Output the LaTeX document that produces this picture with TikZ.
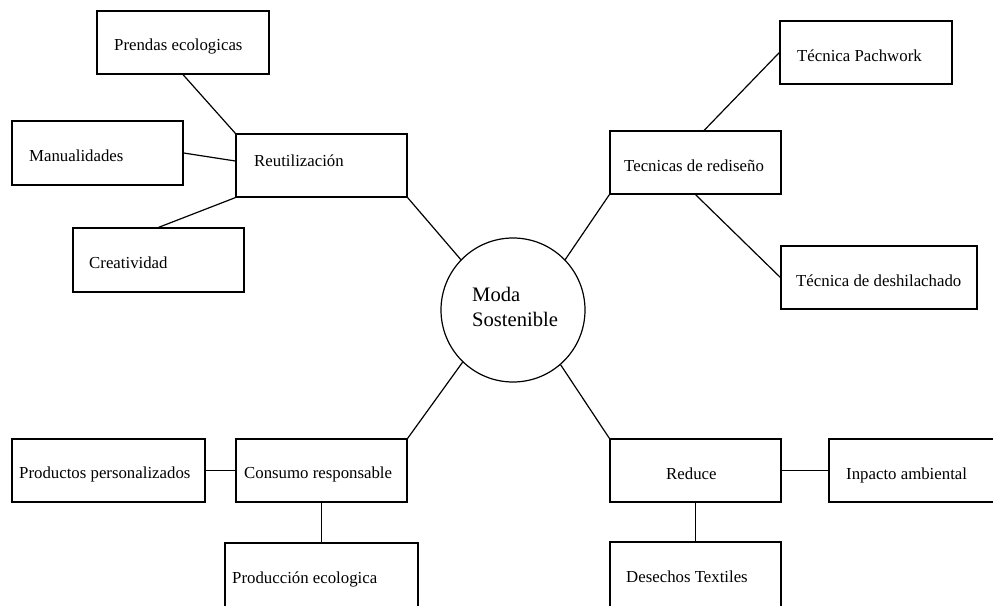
\documentclass[tikz,border=0pt]{standalone}
\usepackage{fontspec}
\setmainfont{Liberation Serif}
\usetikzlibrary{calc}
\tikzset{
  box/.style={draw=black, line width=1.2pt, rectangle, inner sep=0pt, fill=none},
  hub/.style={draw=black, line width=1.2pt, circle, inner sep=0pt, minimum size=144pt},
  txt/.style={inner sep=0pt, anchor=base west, font=\fontsize{16.8}{20}\selectfont},
  bigtxt/.style={inner sep=0pt, anchor=base west, font=\fontsize{20.6}{25}\selectfont},
  link/.style={draw=black, line width=1.2pt}
}
\newcommand{\mkbox}[5]{%
  \pgfmathsetmacro{\bw}{#4-#2}\pgfmathsetmacro{\bh}{#5-#3}%
  \node[box, minimum width=\bw pt, minimum height=\bh pt] (#1) at ({(#2+#4)/2},{(#3+#5)/2}) {};}
\begin{document}
\begin{tikzpicture}[x=1pt,y=-1pt]
\useasboundingbox (0,0) rectangle (993,605);
\fill[white] (0,0) rectangle (993,605);
\clip (0,0) rectangle (993,605);
% boxes
\mkbox{prendas}{97}{11}{269}{74}
\mkbox{manual}{12}{121}{183}{185}
\mkbox{reut}{236}{134}{407}{197}
\mkbox{creat}{73}{228}{244}{292}
\mkbox{pach}{780}{21}{952}{84}
\mkbox{tec}{610}{131}{781}{194}
\mkbox{desh}{781}{246}{977}{309}
\mkbox{prod}{12}{439}{205}{502}
\mkbox{cons}{236}{439}{407}{502}
\mkbox{produc}{225}{543}{418}{608}
\mkbox{reduce}{610}{439}{781}{502}
\mkbox{inpacto}{829}{439}{1000}{502}
\mkbox{desech}{610}{542}{781}{608}
\node[hub] (moda) at (513,310) {};
% texts
\node[txt] (prendas-t) at (114,50) {Prendas ecologicas};
\node[txt] (manual-t) at (29,161) {Manualidades};
\node[txt] (reut-t) at (254,166) {Reutilización};
\node[txt] (creat-t) at (89,268) {Creatividad};
\node[txt] (pach-t) at (797,61) {Técnica Pachwork};
\node[txt] (tec-t) at (624,171) {Tecnicas de rediseño};
\node[txt] (desh-t) at (796,286) {Técnica de deshilachado};
\node[txt] (prod-t) at (19,478) {Productos personalizados};
\node[txt] (cons-t) at (244,478) {Consumo responsable};
\node[txt] (produc-t) at (232,583) {Producción ecologica};
\node[txt] (reduce-t) at (666,479) {Reduce};
\node[txt] (inpacto-t) at (846,479) {Inpacto ambiental};
\node[txt] (desech-t) at (626,582) {Desechos Textiles};
\node[bigtxt] (moda-t1) at (472,301) {Moda};
\node[bigtxt] (moda-t2) at (472,326) {Sostenible};
% connectors
\draw[link] (prendas.south) -- (reut.north west);
\draw[link] (manual.east) -- ($(reut.north west)!0.43!(reut.south west)$);
\draw[link] (creat.north) -- (reut.south west);
\draw[link] (reut.south east) -- (moda.136);
\draw[link] ($(tec.north west)!0.55!(tec.north east)$) -- (pach.west);
\draw[link] (tec.south) -- (desh.west);
\draw[link] (tec.south west) -- (moda.44);
\draw[link] (cons.north east) -- (moda.226);
\draw[link] (prod.east) -- (cons.west);
\draw[link] (cons.south) -- (produc.north);
\draw[link] (reduce.north west) -- (moda.311);
\draw[link] (reduce.east) -- (inpacto.west);
\draw[link] (reduce.south) -- (desech.north);
\end{tikzpicture}
\end{document}
